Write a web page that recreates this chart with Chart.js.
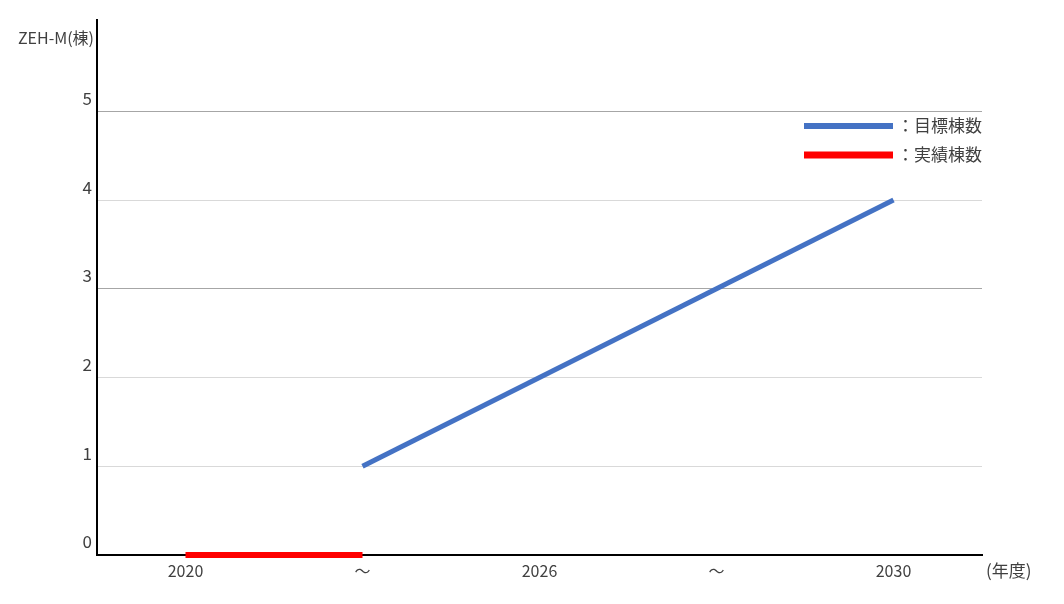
<!DOCTYPE html>
<html>
<head>
<meta charset="utf-8">
<script src="https://cdn.jsdelivr.net/npm/chart.js@4"></script>
<style>
    html, body { margin: 0; padding: 0; background: #ffffff; }
    #wrap { width: 1064px; height: 604px; }
</style>
</head>
<body>
<div id="wrap"><canvas id="zeh-chart"></canvas></div>
<script>
const years = ['2020', '～', '2026', '～', '2030'];
const targetCounts = [null, 1, 2, 3, 4];
const actualCounts = [0, 0, null, null, null];
const yTicks = [0, 1, 2, 3, 4, 5];

const FONT = '"Noto Sans CJK JP", "Noto Sans", sans-serif';
const TEXT = '#404040';

// legend and axis captions drawn by hand, the original places them freely
const extraText = {
    id: 'extraText',
    afterDraw(chart) {
        const ctx = chart.ctx;
        const area = chart.chartArea;
        ctx.save();
        ctx.font = '16px ' + FONT;
        ctx.fillStyle = TEXT;
        ctx.textBaseline = 'middle';
        ctx.textAlign = 'right';
        ctx.fillText('ZEH-M(棟)', 94, 38);
        ctx.textAlign = 'left';
        ctx.font = '17px ' + FONT;
        ctx.fillText('(年度)', area.right + 4, 571);

        chart.data.datasets.forEach((ds, i) => {
            const y = 126 + i * 29;
            ctx.strokeStyle = ds.borderColor;
            ctx.lineWidth = ds.borderWidth + 1;
            ctx.beginPath();
            ctx.moveTo(804, y);
            ctx.lineTo(893, y);
            ctx.stroke();
            ctx.fillStyle = TEXT;
            ctx.fillText('：' + ds.label, 897, y);
        });
        ctx.restore();
    }
};

const zehChart = new Chart(document.getElementById('zeh-chart').getContext('2d'), {
    type: 'line',
    data: {
        labels: years,
        datasets: [
            {
                label: '目標棟数',
                data: targetCounts,
                borderColor: '#4472c4',
                borderWidth: 5,
                pointRadius: 0,
                fill: false,
                spanGaps: false
            },
            {
                label: '実績棟数',
                data: actualCounts,
                borderColor: '#ff0000',
                borderWidth: 6,
                pointRadius: 0,
                fill: false,
                clip: false
            }
        ]
    },
    options: {
        responsive: true,
        maintainAspectRatio: false,
        animation: false,
        layout: { padding: { left: 0, right: 82, top: 20, bottom: 0 } },
        plugins: {
            legend: { display: false },
            tooltip: { enabled: false }
        },
        scales: {
            x: {
                offset: true,
                afterFit: (scale) => { scale.height = 49; },
                grid: { display: false, drawTicks: false },
                border: { color: '#000000', width: 2 },
                ticks: { color: TEXT, font: { family: FONT, size: 16 }, padding: 6, maxRotation: 0 }
            },
            y: {
                min: 0,
                max: 6.03,
                afterFit: (scale) => { scale.width = 97; },
                afterBuildTicks: (scale) => {
                    scale.ticks = yTicks.map(v => ({ value: v }));
                },
                border: { color: '#000000', width: 2 },
                grid: {
                    drawTicks: false,
                    color: (c) => {
                        const v = c.tick ? c.tick.value : 0;
                        if (v === 0) return 'rgba(0,0,0,0)';
                        return (v === 5 || v === 3) ? '#a6a6a6' : '#d9d9d9';
                    }
                },
                ticks: {
                    color: TEXT,
                    font: { family: FONT, size: 17 },
                    padding: 5,
                    labelOffset: -13,
                    callback: (v) => String(v)
                }
            }
        }
    },
    plugins: [extraText]
});
</script>
</body>
</html>
